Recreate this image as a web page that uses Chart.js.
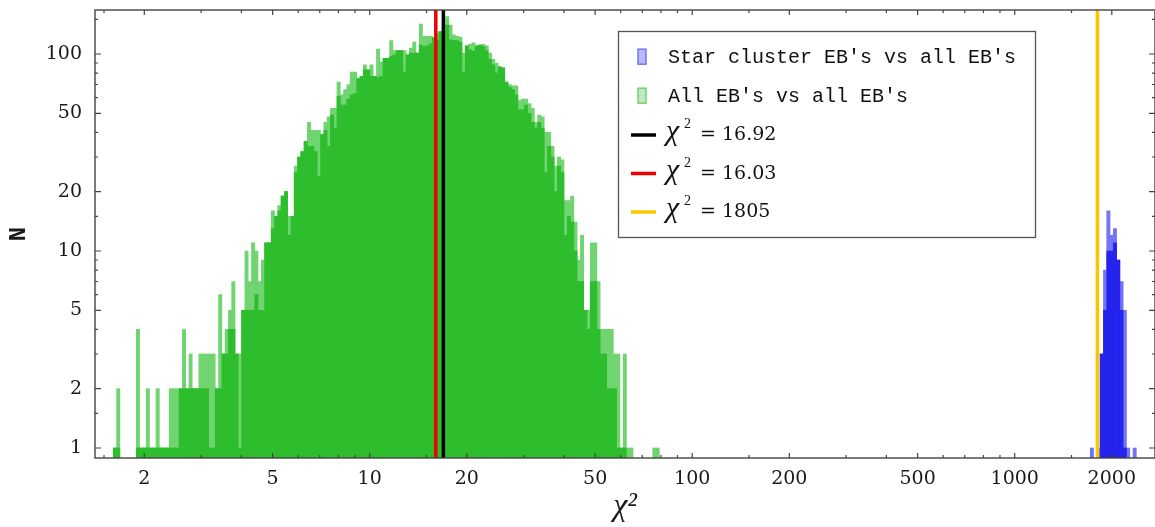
<!DOCTYPE html>
<html>
<head>
<meta charset="utf-8">
<script src="https://cdn.jsdelivr.net/npm/chart.js@4.4.0/dist/chart.umd.min.js"></script>
<style>
  html, body { margin: 0; padding: 0; background: #fff; }
</style>
</head>
<body>
<canvas id="chi2Chart" width="1155" height="527"></canvas>
<script>
// histogram bins, equal width in log10(chi^2)
const binLo = 0.2049;    // log10 of left edge of bin 0
const binStep = 0.0102;  // bin width in log10

// All EB's vs all EB's: two overlaid passes, light where only one reaches
const greenTop = [
  1, 2, 0, 0, 0, 0, 0, 4, 1, 1,
  2, 1, 1, 2, 1, 1, 1, 2, 2, 2,
  2, 4, 2, 3, 2, 2, 3, 3, 3, 3,
  3, 2, 6, 3, 4, 5, 7, 3, 3, 5,
  10, 7, 11, 10, 7, 9, 11, 11, 16, 15,
  17, 19, 20, 15, 15, 27, 30, 32, 36, 45,
  41, 41, 41, 39, 45, 48, 53, 53, 72, 62,
  66, 70, 81, 81, 75, 77, 88, 83, 88, 77,
  106, 91, 95, 95, 117, 104, 104, 104, 104, 99,
  107, 115, 101, 142, 123, 123, 123, 121, 128, 130,
  135, 155, 140, 125, 123, 122, 101, 110, 112, 114,
  110, 111, 112, 110, 101, 94, 90, 86, 85, 72,
  70, 69, 69, 58, 59, 59, 56, 53, 45, 49,
  48, 40, 40, 34, 27, 30, 29, 18, 18, 19,
  14, 9, 12, 5, 5, 11, 11, 7, 4, 4,
  4, 4, 3, 3, 1, 3, 1, 1, 0, 0,
  0, 0, 0, 0, 1, 1
];
const greenBase = [
  1, 1, 0, 0, 0, 0, 0, 1, 1, 1,
  1, 1, 1, 1, 1, 1, 1, 1, 1, 1,
  2, 2, 2, 2, 2, 2, 2, 2, 2, 1,
  1, 2, 2, 3, 3, 4, 4, 3, 1, 5,
  5, 5, 5, 6, 5, 5, 11, 11, 13, 15,
  16, 19, 20, 12, 15, 25, 30, 32, 36, 34,
  34, 32, 24, 39, 41, 34, 49, 42, 61, 55,
  55, 59, 62, 63, 75, 77, 83, 83, 77, 77,
  76, 77, 95, 95, 97, 99, 104, 104, 81, 99,
  101, 101, 101, 111, 109, 110, 113, 121, 118, 130,
  125, 140, 118, 117, 117, 115, 81, 110, 105, 103,
  110, 111, 109, 104, 94, 88, 80, 86, 85, 72,
  68, 66, 62, 52, 52, 55, 50, 45, 42, 45,
  42, 25, 34, 30, 20, 27, 25, 12, 15, 14,
  10, 7, 7, 5, 4, 7, 7, 4, 3, 3,
  2, 2, 2, 1, 1, 1, 0, 0, 0, 0,
  0, 0, 0, 0, 0, 0
];

// Star cluster EB's vs all EB's, first bin index
const blueFirstBin = 297;
const blueTop  = [1, 0, 1, 3, 8, 16, 12, 13, 9, 7, 5, 1, 0, 1];
const blueBase = [0, 0, 0, 3, 5, 10, 10, 11, 9, 5, 1, 0, 0, 0];

const refValues = [16.92, 16.03, 1805];
const seriesLabels = ['Star cluster EB\u2032s vs all EB\u2032s', 'All EB\u2032s vs all EB\u2032s'];

const xMajor = [2, 5, 10, 20, 50, 100, 200, 500, 1000, 2000];
const xMinor = [1.5, 3, 4, 6, 7, 8, 9, 15, 30, 40, 60, 70, 80, 90, 150, 300, 400, 600, 700, 800, 900, 1500];
const yMajor = [1, 2, 5, 10, 20, 50, 100];
const yMinor = [1.5, 3, 4, 6, 7, 8, 9, 15, 30, 40, 60, 70, 80, 90, 150];

const refColors = ['#000000', '#ee0000', '#ffc400'];
const greenLight = '#70d470', greenDark = '#2dbd2d';
const blueLight = '#7474f6', blueDark = '#2424ec';

function binCenter(j) {
  return Math.pow(10, binLo + (j + 0.5) * binStep);
}
function toPoints(counts, first) {
  return counts.map((n, i) => ({ x: binCenter(first + i), y: n > 0 ? n : null }));
}
function tickList(major, minor) {
  return major.concat(minor).sort((a, b) => a - b).map(v => ({ value: v }));
}

const marks = {
  id: 'marks',
  afterDatasetsDraw(chart) {
    const ctx = chart.ctx;
    const area = chart.chartArea;
    const xs = chart.scales.x, ys = chart.scales.y;

    // reference lines
    ctx.save();
    ctx.beginPath();
    ctx.rect(area.left, area.top, area.right - area.left, area.bottom - area.top);
    ctx.clip();
    ctx.lineWidth = 3.5;
    refValues.forEach((v, i) => {
      const px = xs.getPixelForValue(v);
      ctx.strokeStyle = refColors[i];
      ctx.beginPath();
      ctx.moveTo(px, area.top);
      ctx.lineTo(px, area.bottom);
      ctx.stroke();
    });
    ctx.restore();

    // frame and inward ticks on all four sides
    ctx.save();
    ctx.strokeStyle = '#444';
    ctx.lineWidth = 1.4;
    ctx.strokeRect(area.left, area.top, area.right - area.left, area.bottom - area.top);
    ctx.lineWidth = 1.2;
    ctx.beginPath();
    xMajor.concat(xMinor).forEach(v => {
      const px = xs.getPixelForValue(v);
      const len = xMajor.includes(v) ? 5 : 3;
      ctx.moveTo(px, area.bottom); ctx.lineTo(px, area.bottom - len);
      ctx.moveTo(px, area.top); ctx.lineTo(px, area.top + len);
    });
    yMajor.concat(yMinor).forEach(v => {
      const py = ys.getPixelForValue(v);
      const len = yMajor.includes(v) ? 6 : 3;
      ctx.moveTo(area.left, py); ctx.lineTo(area.left + len, py);
      ctx.moveTo(area.right, py); ctx.lineTo(area.right - len, py);
    });
    ctx.stroke();
    ctx.restore();

    // legend
    ctx.save();
    const bx = 618.5, by = 31.5, bw = 417, bh = 206;
    ctx.fillStyle = '#fff';
    ctx.fillRect(bx, by, bw, bh);
    ctx.strokeStyle = '#555';
    ctx.lineWidth = 1.3;
    ctx.strokeRect(bx, by, bw, bh);
    const rows = [62.7, 101.7, 140, 178.5, 217];
    const swatch = [['#b8b8fa', blueLight], ['#bfeabf', greenLight]];
    ctx.textBaseline = 'alphabetic';
    ctx.textAlign = 'left';
    for (let i = 0; i < 2; i++) {
      ctx.fillStyle = swatch[i][0];
      ctx.strokeStyle = swatch[i][1];
      ctx.lineWidth = 1.5;
      ctx.fillRect(638, rows[i] - 13.5, 8, 15);
      ctx.strokeRect(638, rows[i] - 13.5, 8, 15);
      ctx.fillStyle = '#111';
      ctx.font = '20px "Liberation Mono"';
      ctx.fillText(seriesLabels[i], 668, rows[i]);
    }
    refValues.forEach((v, i) => {
      const b = rows[i + 2];
      ctx.strokeStyle = refColors[i];
      ctx.lineWidth = 3.5;
      ctx.beginPath();
      ctx.moveTo(631, b - 5);
      ctx.lineTo(656, b - 5);
      ctx.stroke();
      ctx.fillStyle = '#111';
      ctx.font = 'italic 30px "Liberation Serif"';
      ctx.fillText('\u03c7', 666, b);
      ctx.font = '14px "Liberation Serif"';
      ctx.fillText('2', 684, b - 12);
      ctx.font = '19px "DejaVu Serif"';
      ctx.fillText('= ' + v, 700, b);
    });
    ctx.restore();
  }
};

const tickFont = { family: 'DejaVu Serif', size: 19 };

new Chart(document.getElementById('chi2Chart'), {
  type: 'bar',
  data: {
    datasets: [
      { label: seriesLabels[0], data: toPoints(blueBase, blueFirstBin), backgroundColor: blueDark, order: 0 },
      { label: seriesLabels[1], data: toPoints(greenBase, 0), backgroundColor: greenDark, order: 0 },
      { label: seriesLabels[0], data: toPoints(blueTop, blueFirstBin), backgroundColor: blueLight, order: 1 },
      { label: seriesLabels[1], data: toPoints(greenTop, 0), backgroundColor: greenLight, order: 1 }
    ]
  },
  options: {
    responsive: false,
    animation: false,
    events: [],
    layout: { padding: { top: 10, left: 0, right: 0, bottom: 0 } },
    datasets: {
      bar: { grouped: false, barPercentage: 1, categoryPercentage: 1, borderWidth: 0 }
    },
    plugins: {
      legend: { display: false },
      tooltip: { enabled: false }
    },
    scales: {
      x: {
        type: 'logarithmic',
        bounds: 'data',
        min: 1.4067,
        max: 2722.6,
        grid: { display: false, drawTicks: false },
        border: { display: false },
        afterBuildTicks: s => { s.ticks = tickList(xMajor, xMinor); },
        afterFit: s => { s.height = 69; s.paddingLeft = 0; s.paddingRight = 0; },
        ticks: {
          autoSkip: false,
          maxRotation: 0,
          padding: 10,
          color: '#1a1a1a',
          font: tickFont,
          callback: v => xMajor.includes(v) ? String(v) : ''
        },
        title: {
          display: true,
          text: '\u03c7\u00b2',
          color: '#1a1a1a',
          font: { family: 'Liberation Serif', size: 32, style: 'italic', lineHeight: 1 },
          padding: { top: 0, bottom: 4 }
        }
      },
      y: {
        type: 'logarithmic',
        bounds: 'data',
        min: 0.8897,
        max: 167.2,
        grid: { display: false, drawTicks: false },
        border: { display: false },
        afterBuildTicks: s => { s.ticks = tickList(yMajor, yMinor); },
        afterFit: s => { s.width = 95; s.paddingTop = 0; s.paddingBottom = 0; },
        ticks: {
          autoSkip: false,
          padding: 13,
          color: '#1a1a1a',
          font: tickFont,
          callback: v => yMajor.includes(v) ? String(v) : ''
        },
        title: {
          display: true,
          text: 'N',
          color: '#1a1a1a',
          font: { family: 'Liberation Mono', size: 24, weight: 'bold', lineHeight: 1 },
          padding: { top: 7, bottom: 0 }
        }
      }
    }
  },
  plugins: [marks]
});
</script>
</body>
</html>
